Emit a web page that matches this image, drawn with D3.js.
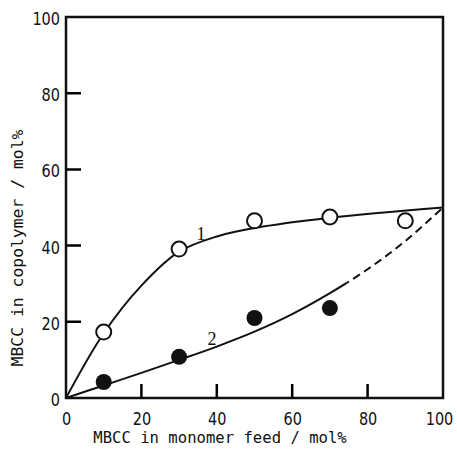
<!DOCTYPE html>
<html>
<head>
<meta charset="utf-8">
<script src="https://cdn.jsdelivr.net/npm/d3@7"></script>
<style>
  body { margin: 0; background: #fff; }
  svg text { fill: #111; }
</style>
</head>
<body>
<div id="chart"></div>
<script>
// tick values
const xTicks = [0, 20, 40, 60, 80, 100];
const yTicks = [0, 20, 40, 60, 80, 100];
const innerTicks = [20, 40, 60, 80];

// measured points (open = 1, filled = 2)
const feed1 = [10, 30, 50, 70, 90];
const copo1 = [17.3, 39.1, 46.5, 47.5, 46.5];
const feed2 = [10, 30, 50, 70];
const copo2 = [4.2, 10.8, 21, 23.6];

// fitted curves
const curve1X = [0, 10, 20, 30, 40, 50, 70, 100];
const curve1Y = [0, 17, 29.5, 38.4, 42.4, 44.6, 47.3, 50];
const curve2X = [0, 10, 20, 30, 40, 50, 60, 70, 80, 90, 100];
const curve2Y = [0, 3.3, 6.6, 10, 13.5, 17.4, 22, 27.5, 33.8, 41.2, 50];
const dashFrom = 74.5; // curve 2 is dashed beyond this feed value

const W = 457, H = 453;
const margin = {left: 66, right: 14, top: 17, bottom: 55};

const svg = d3.select("#chart")
  .append("svg")
  .attr("width", W)
  .attr("height", H);

const x = d3.scaleLinear().domain([0, 100]).range([margin.left, W - margin.right]);
const y = d3.scaleLinear().domain([0, 100]).range([H - margin.bottom, margin.top]);

// tick labels from axes
const xAxis = svg.append("g")
  .attr("transform", `translate(0,${y(0)})`)
  .call(d3.axisBottom(x).tickValues(xTicks).tickSize(0).tickPadding(14));
const yAxis = svg.append("g")
  .attr("transform", `translate(${x(0)},0)`)
  .call(d3.axisLeft(y).tickValues(yTicks).tickSize(0).tickPadding(6));

[xAxis, yAxis].forEach(function(a) {
  a.select(".domain").remove();
  a.selectAll("line").remove();
  a.selectAll("text")
    .style("font-family", "'DejaVu Sans', sans-serif")
    .style("font-size", "18px")
    .attr("fill", "#111")
    .attr("textLength", function(d) { return String(d).length * 9.2; })
    .attr("lengthAdjust", "spacingAndGlyphs");
});
yAxis.selectAll("text").attr("dy", "0.42em");
// keep the last x label inside the picture
xAxis.selectAll(".tick").filter(function(d) { return d == 100; })
  .select("text").attr("dx", -4);

// curves
const line = d3.line()
  .x(function(d) { return x(d[0]); })
  .y(function(d) { return y(d[1]); })
  .curve(d3.curveCatmullRom.alpha(0.5));

svg.append("path")
  .datum(d3.zip(curve1X, curve1Y))
  .attr("d", line)
  .attr("fill", "none").attr("stroke", "#111").attr("stroke-width", 2);

// clip regions for solid / dashed part of curve 2
const defs = svg.append("defs");
defs.append("clipPath").attr("id", "solidPart")
  .append("rect")
  .attr("x", 0).attr("y", 0)
  .attr("width", x(dashFrom)).attr("height", H);
defs.append("clipPath").attr("id", "dashPart")
  .append("rect")
  .attr("x", x(dashFrom)).attr("y", 0)
  .attr("width", W - x(dashFrom)).attr("height", H);

svg.append("path")
  .datum(d3.zip(curve2X, curve2Y))
  .attr("d", line)
  .attr("clip-path", "url(#solidPart)")
  .attr("fill", "none").attr("stroke", "#111").attr("stroke-width", 2);

svg.append("path")
  .datum(d3.zip(curve2X, curve2Y))
  .attr("d", line)
  .attr("clip-path", "url(#dashPart)")
  .attr("fill", "none").attr("stroke", "#111").attr("stroke-width", 2)
  .attr("stroke-dasharray", "8,5");

// points
svg.selectAll(".open")
  .data(d3.zip(feed1, copo1))
  .enter()
  .append("circle")
  .attr("class", "open")
  .attr("cx", function(d) { return x(d[0]); })
  .attr("cy", function(d) { return y(d[1]); })
  .attr("r", 7.5)
  .attr("fill", "#fff").attr("stroke", "#111").attr("stroke-width", 2);

svg.selectAll(".filled")
  .data(d3.zip(feed2, copo2))
  .enter()
  .append("circle")
  .attr("class", "filled")
  .attr("cx", function(d) { return x(d[0]); })
  .attr("cy", function(d) { return y(d[1]); })
  .attr("r", 8)
  .attr("fill", "#111");

// frame + inward ticks, drawn last so nothing sits on top
const xTickPath = innerTicks.map(function(d) { return `M${x(d)},${y(0)}L${x(d)},${y(0) - 14}`; }).join("");
const yTickPath = innerTicks.map(function(d) { return `M${x(0)},${y(d)}L${x(0) + 15},${y(d)}`; }).join("");

svg.append("path")
  .attr("class", "frame")
  .attr("d", `M${x(0)},${y(100)}L${x(100)},${y(100)}L${x(100)},${y(0)}L${x(0)},${y(0)}Z`)
  .attr("fill", "none").attr("stroke", "#111").attr("stroke-width", 2.5);

svg.append("path")
  .attr("class", "ticks")
  .attr("d", xTickPath + yTickPath)
  .attr("fill", "none").attr("stroke", "#000").attr("stroke-width", 2.5);

// curve labels
svg.append("text")
  .attr("x", 201).attr("y", 240)
  .attr("text-anchor", "middle")
  .style("font-family", "'Liberation Serif', serif")
  .style("font-size", "18px")
  .text("1");
svg.append("text")
  .attr("x", 212).attr("y", 345)
  .attr("text-anchor", "middle")
  .style("font-family", "'Liberation Serif', serif")
  .style("font-size", "18px")
  .text("2");

// axis titles
svg.append("text")
  .attr("x", 220).attr("y", 443)
  .attr("text-anchor", "middle")
  .style("font-family", "'DejaVu Sans Mono', monospace")
  .style("font-size", "15.6px")
  .text("MBCC in monomer feed / mol%");

svg.append("text")
  .attr("transform", "translate(23,248) rotate(-90)")
  .attr("text-anchor", "middle")
  .style("font-family", "'DejaVu Sans Mono', monospace")
  .style("font-size", "16.4px")
  .text("MBCC in copolymer / mol%");
</script>
</body>
</html>
